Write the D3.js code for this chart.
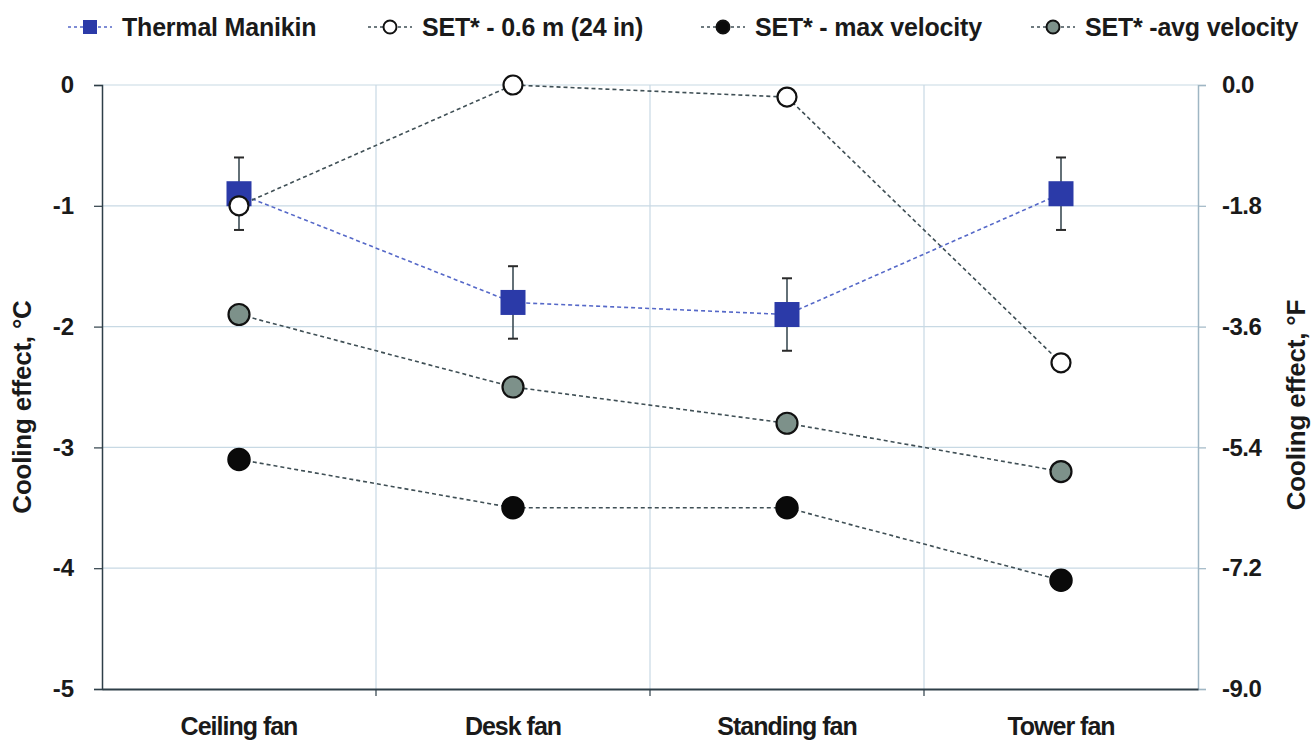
<!DOCTYPE html>
<html>
<head>
<meta charset="utf-8">
<script src="https://cdn.jsdelivr.net/npm/d3@7"></script>
<style>
  html, body { margin: 0; padding: 0; background: #fff; }
  svg { display: block; font-family: "Liberation Sans", Arial, sans-serif; }
</style>
</head>
<body>
<svg id="chart" width="1311" height="747"></svg>
<script>
const categories = ["Ceiling fan", "Desk fan", "Standing fan", "Tower fan"];
const manikin = [-0.9, -1.8, -1.9, -0.9];
const manikinErr = [0.3, 0.3, 0.3, 0.3];
const set06 = [-1.0, 0.0, -0.1, -2.3];
const setMax = [-3.1, -3.5, -3.5, -4.1];
const setAvg = [-1.9, -2.5, -2.8, -3.2];
const leftTicks = [0, -1, -2, -3, -4, -5];
const rightTicks = [0, -1.8, -3.6, -5.4, -7.2, -9.0];
const seriesNames = ["Thermal Manikin", "SET* - 0.6 m (24 in)", "SET* - max velocity", "SET* -avg velocity"];

const svg = d3.select("#chart");
const M = { left: 102, right: 1198, top: 85, bottom: 689 };

const x = d3.scaleBand().domain(categories).range([M.left, M.right]).padding(0);
const y = d3.scaleLinear().domain([-5, 0]).range([M.bottom, M.top]);
const yR = d3.scaleLinear().domain([-9, 0]).range([M.bottom, M.top]);
const cx = c => x(c) + x.bandwidth() / 2;
const hyph = f => d => f(d).replace("\u2212", "-");

const gridColor = "#c8d9e4";
const axisDark = "#2e3f48";

// horizontal gridlines
svg.append("g").selectAll("line").data(leftTicks.filter(d => d !== -5)).join("line")
  .attr("x1", M.left).attr("x2", M.right)
  .attr("y1", d => y(d)).attr("y2", d => y(d))
  .attr("stroke", gridColor).attr("stroke-width", 1.2);

// vertical gridlines at category boundaries
svg.append("g").selectAll("line").data(categories.slice(1)).join("line")
  .attr("x1", d => x(d)).attr("x2", d => x(d))
  .attr("y1", M.top).attr("y2", M.bottom)
  .attr("stroke", gridColor).attr("stroke-width", 1.2);

// right axis
const rightAxis = svg.append("g").attr("transform", `translate(${M.right},0)`)
  .call(d3.axisRight(yR).tickValues(rightTicks).tickFormat(hyph(d3.format(".1f"))).tickSize(8).tickPadding(16));
rightAxis.select(".domain").attr("stroke", "#9fb6c4").attr("stroke-width", 1.5);
rightAxis.selectAll(".tick line").attr("stroke", "#9fb6c4").attr("stroke-width", 1.2);
rightAxis.selectAll("text").attr("font-size", 24).attr("font-weight", "bold").attr("fill", "#1a1a1a")
  .attr("letter-spacing", "-0.5");

// left axis
const leftAxis = svg.append("g").attr("transform", `translate(${M.left},0)`)
  .call(d3.axisLeft(y).tickValues(leftTicks).tickFormat(hyph(d3.format("d"))).tickSize(8).tickPadding(20));
leftAxis.select(".domain").attr("stroke", axisDark).attr("stroke-width", 1.5);
leftAxis.selectAll(".tick line").attr("stroke", axisDark).attr("stroke-width", 1.2);
leftAxis.selectAll("text").attr("font-size", 24).attr("font-weight", "bold").attr("fill", "#1a1a1a");

// bottom axis
const bottomAxis = svg.append("g").attr("transform", `translate(0,${M.bottom})`)
  .call(d3.axisBottom(x).tickSize(0).tickPadding(28));
bottomAxis.select(".domain").attr("stroke", axisDark).attr("stroke-width", 2.2);
bottomAxis.selectAll("text").attr("font-size", 25).attr("font-weight", "bold").attr("fill", "#1a1a1a")
  .attr("letter-spacing", "-1");
svg.append("g").selectAll("line").data(categories.slice(1)).join("line")
  .attr("x1", d => x(d)).attr("x2", d => x(d))
  .attr("y1", M.bottom).attr("y2", M.bottom + 7)
  .attr("stroke", axisDark).attr("stroke-width", 1.2);

// axis titles
svg.append("text")
  .attr("transform", `translate(31,407) rotate(-90)`)
  .attr("text-anchor", "middle").attr("font-size", 26).attr("font-weight", "bold")
  .attr("letter-spacing", "-0.2").attr("fill", "#1a1a1a")
  .text("Cooling effect, °C");
svg.append("text")
  .attr("transform", `translate(1305,405) rotate(-90)`)
  .attr("text-anchor", "middle").attr("font-size", 26).attr("font-weight", "bold")
  .attr("letter-spacing", "-0.2").attr("fill", "#1a1a1a")
  .text("Cooling effect, °F");

const line = d3.line().x((d, i) => cx(categories[i])).y(d => y(d));
const blue = "#2b3aa8";
const grey = "#7d918a";
const dashGrey = "#3f4f55";

function drawLine(data, color) {
  svg.append("path").datum(data).attr("d", line)
    .attr("fill", "none").attr("stroke", color).attr("stroke-width", 1.6)
    .attr("stroke-dasharray", "4,3");
}

// Thermal manikin
drawLine(manikin, "#5568c8");
const eb = svg.append("g");
manikin.forEach((v, i) => {
  const xc = cx(categories[i]);
  eb.append("line").attr("x1", xc).attr("x2", xc)
    .attr("y1", y(v + manikinErr[i])).attr("y2", y(v - manikinErr[i]))
    .attr("stroke", "#3d4d55").attr("stroke-width", 1.6);
  [v + manikinErr[i], v - manikinErr[i]].forEach(e => {
    eb.append("line").attr("x1", xc - 5).attr("x2", xc + 5)
      .attr("y1", y(e)).attr("y2", y(e))
      .attr("stroke", "#2a2a2a").attr("stroke-width", 2);
  });
});
svg.append("g").selectAll("rect").data(manikin).join("rect")
  .attr("x", (d, i) => cx(categories[i]) - 12.5).attr("y", d => y(d) - 12.5)
  .attr("width", 25).attr("height", 25).attr("fill", blue);

// SET 0.6 m
drawLine(set06, dashGrey);
svg.append("g").selectAll("circle").data(set06).join("circle")
  .attr("cx", (d, i) => cx(categories[i])).attr("cy", d => y(d)).attr("r", 9.5)
  .attr("fill", "#fff").attr("stroke", "#111").attr("stroke-width", 2.2);

// SET max
drawLine(setMax, dashGrey);
svg.append("g").selectAll("circle").data(setMax).join("circle")
  .attr("cx", (d, i) => cx(categories[i])).attr("cy", d => y(d)).attr("r", 11)
  .attr("fill", "#0a0a0a").attr("stroke", "#0a0a0a").attr("stroke-width", 1.5);

// SET avg
drawLine(setAvg, dashGrey);
svg.append("g").selectAll("circle").data(setAvg).join("circle")
  .attr("cx", (d, i) => cx(categories[i])).attr("cy", d => y(d)).attr("r", 10.5)
  .attr("fill", grey).attr("stroke", "#111").attr("stroke-width", 2.2);

// legend
const legendX = [90, 390, 723, 1053];
const lg = svg.append("g");
seriesNames.forEach((name, i) => {
  const lx = legendX[i], ly = 27;
  lg.append("line").attr("x1", lx - 22).attr("x2", lx + 22).attr("y1", ly).attr("y2", ly)
    .attr("stroke", i === 0 ? "#5568c8" : dashGrey).attr("stroke-width", 1.5)
    .attr("stroke-dasharray", "3,3");
  if (i === 0) {
    lg.append("rect").attr("x", lx - 7).attr("y", ly - 7).attr("width", 14).attr("height", 14).attr("fill", blue);
  } else {
    const fills = [null, "#fff", "#0a0a0a", grey];
    lg.append("circle").attr("cx", lx).attr("cy", ly).attr("r", 6.5)
      .attr("fill", fills[i]).attr("stroke", "#111").attr("stroke-width", 2);
  }
  lg.append("text").attr("x", lx + 32).attr("y", ly + 9)
    .attr("font-size", 25).attr("font-weight", "bold").attr("letter-spacing", "-0.2")
    .attr("fill", "#1a1a1a").text(name);
});
</script>
</body>
</html>
